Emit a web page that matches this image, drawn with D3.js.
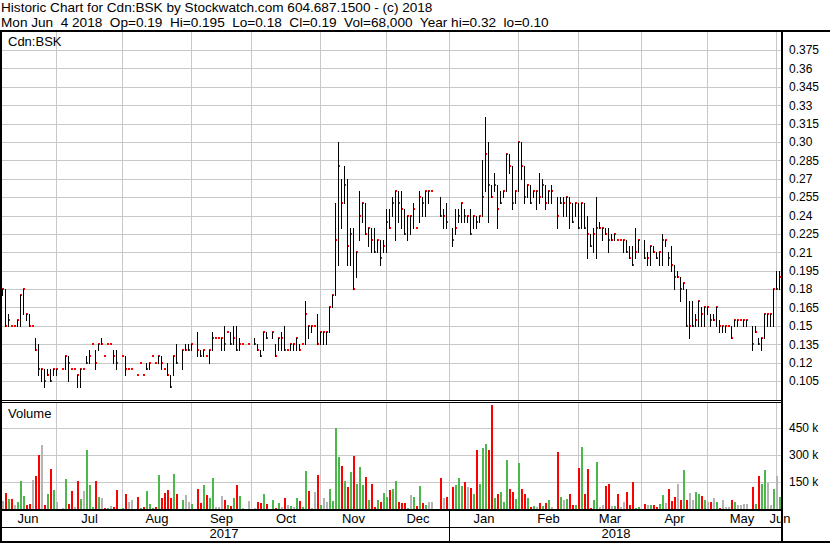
<!DOCTYPE html>
<html><head><meta charset="utf-8">
<script src="https://cdn.jsdelivr.net/npm/d3@7"></script>
<style>
html,body{margin:0;padding:0;background:#fff;}
svg{display:block;}
text{font-family:"Liberation Sans",Arial,sans-serif;fill:#000;}
</style>
</head><body>
<svg id="c" width="830" height="543"></svg>
<script>
// ---------- DATA (one slot per weekday, null = no trade) ----------
const highs = [.18,.18,.16,.15,.15,.155,.175,.18,.16,.16,.15,.14,.135,.115,.115,.115,.115,.115,.115,null,
.115,.125,.125,.115,.115,.11,.115,.115,.125,.13,.135,.13,.135,.14,.125,.135,.135,.13,.13,null,
.125,.125,.115,.115,null,.11,.12,.11,.12,.12,.125,.12,.125,.125,.115,.12,.11,.125,.135,null,
.13,.135,.135,.135,null,.145,.13,.13,.125,.13,.145,.14,.14,.14,.15,.145,.145,.15,.15,.14,
.135,null,.135,null,.14,.135,.13,.145,.145,null,.145,.135,.14,.145,.15,.13,.135,.135,.14,.135,
.135,.17,.15,.15,.15,.16,.145,.145,.145,.165,.175,.25,.30,.27,.28,.27,.23,.23,.21,.26,
.25,.25,.23,.23,.23,.22,.22,.22,.245,.245,.255,.26,.26,.26,.245,.24,.24,.25,.23,.26,
.255,.26,.26,.26,null,null,.255,.245,.25,null,.23,.245,.245,.25,.245,.24,.245,.24,.24,.24,
.285,.32,.30,.265,.275,.265,.26,.26,.29,.29,.28,.26,.30,.30,.28,.265,.265,.26,.26,.275,
.27,.265,.26,.265,null,.255,.255,.255,.255,.255,.25,.25,.25,.25,.25,.24,.225,.23,.255,.235,
.23,.23,.23,.225,.225,.22,.22,.22,.22,.215,.215,.23,.22,null,.22,.21,.215,.215,.21,.21,
.225,.22,.21,.215,.20,.195,.19,.185,.18,.17,.17,.16,.17,.165,.165,.165,.16,.16,.165,.155,
.15,.15,.15,.15,.155,.155,.155,.155,.155,null,.15,.15,.14,.14,.16,.16,.16,.18,.195,.195];
const lows = [.175,.15,.15,.15,.15,.15,.15,.16,.155,.15,.15,.13,.11,.105,.10,.11,.105,.11,.11,null,
.115,.115,.105,.115,.115,.10,.10,.115,.12,.12,.135,.115,.13,.135,.125,.135,.135,.12,.115,null,
.125,.11,.115,.115,null,.11,.12,.11,.115,.115,.125,.12,.12,.115,.115,.11,.10,.11,.12,null,
.115,.13,.13,.13,null,.125,.125,.125,.125,.12,.13,.14,.14,.13,.13,.145,.135,.135,.13,.13,
.135,null,.135,null,.135,.13,.125,.13,.14,null,.14,.125,.13,.13,.13,.13,.13,.13,.13,.13,
.135,.135,.14,.145,.15,.135,.135,.135,.135,.145,.165,.175,.20,.23,.25,.20,.20,.18,.19,.22,
.235,.225,.215,.21,.21,.21,.20,.21,.21,.23,.24,.22,.235,.23,.225,.22,.225,.23,.23,.235,
.24,.24,.25,.26,null,null,.24,.23,.23,null,.215,.225,.235,.235,.235,.235,.225,.23,.23,.235,
.24,.26,.235,.255,.26,.23,.25,.255,.26,.275,.245,.25,.26,.27,.25,.255,.25,.255,.245,.25,
.255,.245,.25,.25,null,.23,.25,.24,.24,.23,.235,.24,.23,.23,.23,.205,.215,.21,.205,.23,
.22,.225,.21,.22,.22,.22,.22,.21,.21,.205,.20,.205,.21,null,.205,.20,.20,.21,.205,.20,
.20,.215,.20,.195,.18,.19,.17,.18,.15,.14,.15,.15,.15,.15,.15,.16,.15,.155,.15,.145,
.145,.145,.15,.14,.15,.15,.155,.15,.15,null,.13,.145,.135,.13,.14,.15,.15,.15,.18,.18];
const closes = [.18,.15,.155,.15,.15,.155,.175,.18,.16,.15,.15,.13,.115,.115,.105,.11,.105,.115,.115,null,
.115,.125,.12,.115,.115,.11,.115,.115,.12,.125,.135,.12,.135,.135,.125,.135,.135,.125,.12,null,
.125,.115,.115,.115,null,.11,.12,.11,.115,.12,.125,.12,.125,.12,.115,.11,.10,.125,.12,null,
.13,.13,.13,.135,null,.13,.125,.13,.125,.13,.14,.14,.14,.14,.135,.145,.135,.14,.13,.135,
.135,null,.135,null,.135,.13,.125,.145,.14,null,.145,.125,.14,.14,.13,.13,.135,.135,.14,.13,
.135,.16,.15,.15,.15,.135,.145,.145,.145,.165,.175,.22,.28,.25,.265,.215,.225,.18,.21,.24,
.25,.225,.23,.22,.21,.22,.205,.215,.235,.23,.25,.26,.25,.245,.225,.24,.24,.245,.23,.255,
.25,.26,.26,.26,null,null,.24,.24,.235,null,.22,.23,.24,.25,.24,.24,.225,.24,.235,.24,
.255,.29,.265,.255,.265,.245,.25,.26,.29,.28,.25,.26,.30,.28,.255,.265,.25,.26,.26,.255,
.265,.25,.26,.26,null,.24,.25,.25,.255,.25,.235,.25,.23,.25,.23,.225,.215,.225,.23,.23,
.23,.225,.22,.22,.225,.22,.22,.22,.21,.205,.20,.21,.22,null,.205,.205,.215,.21,.205,.21,
.22,.22,.205,.20,.19,.19,.18,.185,.15,.15,.15,.155,.17,.16,.165,.165,.155,.155,.165,.15,
.15,.15,.15,.14,.155,.155,.155,.155,.155,null,.135,.145,.135,.14,.16,.16,.16,.18,.18,.19];
// volume in thousands of shares
const volumes = [45,91,56,56,20,37,156,72,22,28,162,184,300,353,22,82,223,106,41,0,
4,167,28,100,13,156,55,100,329,134,13,156,67,63,7,7,17,10,106,0,
7,84,37,50,0,67,7,13,100,26,7,13,190,60,87,104,60,195,86,0,
48,78,37,30,0,112,32,134,78,60,171,11,13,70,50,22,17,60,134,70,
4,0,45,0,4,37,33,84,26,0,48,7,33,13,60,22,17,11,60,45,
13,212,100,4,97,190,22,63,41,112,45,450,290,240,156,123,204,292,141,236,
136,178,50,139,11,48,39,87,69,106,112,156,41,32,33,7,78,69,17,126,
32,22,37,37,0,0,175,63,67,0,123,134,175,130,149,121,119,82,329,138,
338,360,329,576,63,82,97,40,273,110,97,56,256,112,82,60,13,17,11,32,
19,32,48,11,0,316,69,48,56,82,20,22,230,347,84,223,7,48,260,11,
22,130,138,15,19,84,13,37,97,22,149,7,11,0,28,22,22,22,11,30,
78,32,110,45,69,138,52,216,48,87,48,93,82,70,48,37,37,59,37,7,
48,11,10,52,37,22,22,26,26,0,125,28,186,141,216,143,22,112,184,68];
const monthLabels = ["Jun","Jul","Aug","Sep","Oct","Nov","Dec","Jan","Feb","Mar","Apr","May","Jun"];
const monthStartIdx = [-1,18,40,63,83,106,128,149,172,192,213,235,258];
const yearLabels = ["2017","2018"];
const yearStartIdx = [-1,149];
const priceTickLabels = ["0.375","0.36","0.345","0.33","0.315","0.30","0.285","0.27","0.255","0.24","0.225","0.21","0.195","0.18","0.165","0.15","0.135","0.12","0.105"];
const volTickValues = [150000,300000,450000];
const volTickLabels = ["150 k","300 k","450 k"];
const headerLine1 = "Historic Chart for Cdn:BSK by Stockwatch.com 604.687.1500 - (c) 2018";
const headerLine2 = "Mon Jun  4 2018  Op=0.19  Hi=0.195  Lo=0.18  Cl=0.19  Vol=68,000  Year hi=0.32  lo=0.10";
const symbol = "Cdn:BSK";

// ---------- LAYOUT ----------
const W=830,H=543;
const plotL=2, plotR=781, axisX=781;
const priceTop=32, priceBot=400, volTop=403, volBot=509, monBot=527, yearBot=541;
const GRID="#c8c8c8", RED="#ff0000", GREEN="#4cb84c", GREY="#b4b4b4";

const svg=d3.select("#c").attr("shape-rendering","crispEdges");
const nBars = highs.length;
const x = d3.scaleLinear().domain([0, nBars-1]).range([2, 2+3*(nBars-1)]);
const y = d3.scaleLinear().domain([0.105,0.375]).range([381,50]);
const yv = d3.scaleLinear().domain([0,450000]).range([volBot,428]);

svg.append("rect").attr("width",W).attr("height",H).attr("fill","#fff");

// header
svg.append("text").attr("x",1).attr("y",12).style("font-size","13.6px").style("white-space","pre").text(headerLine1);
svg.append("text").attr("x",1).attr("y",27).style("font-size","13.6px").style("white-space","pre").text(headerLine2);

const priceVals = priceTickLabels.map(Number);

// grid
const grid = svg.append("g");
grid.selectAll(".hp").data(priceVals).join("rect")
  .attr("x",plotL).attr("width",plotR-plotL).attr("y",d=>Math.round(y(d))).attr("height",1).attr("fill",GRID);
grid.selectAll(".hv").data(volTickValues).join("rect")
  .attr("x",plotL).attr("width",plotR-plotL).attr("y",d=>Math.round(yv(d))).attr("height",1).attr("fill",GRID);
const mLines = monthStartIdx.slice(1);
grid.selectAll(".vp").data(mLines).join("rect")
  .attr("x",d=>Math.round(x(d))).attr("width",1).attr("y",priceTop).attr("height",priceBot-priceTop).attr("fill",GRID);
grid.selectAll(".vv").data(mLines).join("rect")
  .attr("x",d=>Math.round(x(d))).attr("width",1).attr("y",volTop).attr("height",volBot-volTop).attr("fill",GRID);

// price bars
const idx = d3.range(nBars).filter(i=>highs[i]!=null);
const bars = svg.append("g");
bars.selectAll(".cl").data(idx).join("rect")
  .attr("x",i=>Math.round(x(i))).attr("width",2)
  .attr("y",i=>Math.round(y(closes[i]))-1).attr("height",2).attr("fill",RED);
bars.selectAll(".hl").data(idx.filter(i=>highs[i]>lows[i])).join("rect")
  .attr("x",i=>Math.round(x(i))).attr("width",1)
  .attr("y",i=>Math.round(y(highs[i]))).attr("height",i=>Math.round(y(lows[i]))-Math.round(y(highs[i]))+1).attr("fill","#000");

// volume bars (colour by close change)
let prev=null; const volColor=[];
for(let i=0;i<nBars;i++){
  if(closes[i]==null){volColor.push(GREY);continue;}
  if(prev==null||closes[i]===prev) volColor.push(GREY);
  else volColor.push(closes[i]>prev?GREEN:RED);
  prev=closes[i];
}
svg.append("g").selectAll("rect").data(d3.range(nBars).filter(i=>volumes[i]>0)).join("rect")
  .attr("x",i=>Math.round(x(i))).attr("width",2)
  .attr("y",i=>Math.round(yv(volumes[i]*1000))).attr("height",i=>volBot-Math.round(yv(volumes[i]*1000)))
  .attr("fill",i=>volColor[i]);

// frame
const K="#000";
const fr=(X,Y,w,h)=>svg.append("rect").attr("x",X).attr("y",Y).attr("width",w).attr("height",h).attr("fill",K);
fr(0,30,W,2);
fr(0,30,2,H-30);
fr(axisX,30,2,H-30);
fr(0,priceBot,axisX,1);
fr(0,volTop-1,axisX,1);
fr(0,volBot,axisX,2);
fr(0,monBot,axisX,1);
fr(0,yearBot,W,2);
fr(Math.round(x(yearStartIdx[1])),volBot,1,yearBot-volBot);

// panel labels
svg.append("text").attr("x",8).attr("y",46).style("font-size","13px").text(symbol);
svg.append("text").attr("x",8).attr("y",418).style("font-size","13px").text("Volume");

// right axes
const ax = d3.axisRight(y).tickValues(priceVals).tickSize(0).tickPadding(6)
  .tickFormat((d,i)=>priceTickLabels[i]);
const ag = svg.append("g").attr("transform",`translate(${axisX+2},0)`).call(ax);
ag.select(".domain").remove();
ag.selectAll("text").style("font-size","12px").attr("font-family",null);
const axv = d3.axisRight(yv).tickValues(volTickValues).tickSize(0).tickPadding(6)
  .tickFormat((d,i)=>volTickLabels[i]);
const avg = svg.append("g").attr("transform",`translate(${axisX+2},0)`).call(axv);
avg.select(".domain").remove();
avg.selectAll("text").style("font-size","12px").attr("font-family",null);

// month / year labels
const mEnd = monthStartIdx.slice(1).concat([nBars+0.3]);
svg.append("g").selectAll("text").data(monthLabels).join("text")
  .attr("x",(d,i)=>(x(monthStartIdx[i])+x(mEnd[i]))/2+0.5).attr("y",523)
  .attr("text-anchor","middle").style("font-size","13px").text(d=>d);
const yEnd = [yearStartIdx[1], nBars+0.3];
svg.append("g").selectAll("text").data(yearLabels).join("text")
  .attr("x",(d,i)=>(x(yearStartIdx[i])+x(yEnd[i]))/2).attr("y",538)
  .attr("text-anchor","middle").style("font-size","13px").text(d=>d);
</script>
</body></html>
